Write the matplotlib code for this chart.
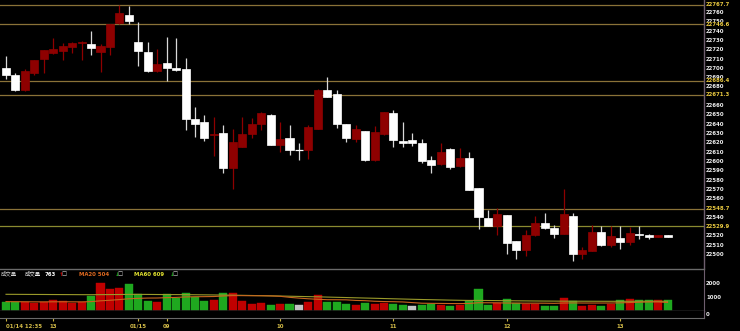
import numpy as np
import matplotlib
matplotlib.use("Agg")
import matplotlib.pyplot as plt
import matplotlib.transforms as mtransforms

# ---------------- data ----------------
opens = [22700, 22692, 22676, 22695, 22710, 22716, 22718, 22722, 22727, 22726,
         22717, 22722, 22748, 22757, 22728, 22717, 22697, 22705, 22700, 22699,
         22645, 22642, 22628, 22630, 22592, 22615, 22629, 22640, 22649, 22617,
         22625, 22612, 22612, 22634, 22676, 22672, 22640, 22624, 22632, 22601,
         22629, 22652, 22621, 22622, 22619, 22601, 22597, 22613, 22595, 22603,
         22571, 22539, 22530, 22542, 22514, 22504, 22520, 22533, 22528, 22522,
         22541, 22500, 22503, 22524, 22510, 22517, 22513, 22522, 22520, 22518,
         22520]
highs = [22713, 22694, 22699, 22708, 22719, 22732, 22727, 22728, 22729, 22740,
         22726, 22747, 22768, 22766, 22749, 22728, 22720, 22733, 22732, 22711,
         22658, 22649, 22647, 22639, 22634, 22647, 22646, 22653, 22650, 22642,
         22639, 22619, 22639, 22677, 22690, 22676, 22640, 22639, 22632, 22638,
         22653, 22655, 22642, 22630, 22624, 22605, 22619, 22614, 22614, 22610,
         22571, 22547, 22549, 22542, 22514, 22526, 22541, 22544, 22531, 22570,
         22544, 22508, 22531, 22530, 22530, 22530, 22529, 22530, 22522, 22520,
         22520]
lows = [22688, 22675, 22675, 22692, 22695, 22715, 22708, 22716, 22708, 22714,
        22696, 22714, 22747, 22747, 22702, 22696, 22696, 22686, 22697, 22633,
        22626, 22621, 22605, 22587, 22570, 22615, 22625, 22633, 22617, 22610,
        22606, 22601, 22602, 22634, 22669, 22635, 22620, 22620, 22600, 22600,
        22628, 22615, 22615, 22616, 22598, 22587, 22596, 22591, 22594, 22569,
        22527, 22530, 22520, 22500, 22495, 22498, 22519, 22527, 22517, 22521,
        22493, 22495, 22503, 22509, 22508, 22505, 22510, 22516, 22516, 22518,
        22518]
closes = [22692, 22676, 22697, 22708, 22719, 22720, 22723, 22727, 22728, 22721,
          22723, 22747, 22759, 22750, 22718, 22697, 22704, 22700, 22698, 22645,
          22640, 22625, 22629, 22592, 22620, 22629, 22640, 22651, 22617, 22624,
          22612, 22612, 22636, 22676, 22669, 22640, 22625, 22634, 22601, 22631,
          22653, 22622, 22619, 22619, 22600, 22596, 22610, 22594, 22603, 22569,
          22540, 22530, 22543, 22512, 22504, 22520, 22533, 22528, 22521, 22543,
          22500, 22504, 22524, 22510, 22519, 22513, 22523, 22520, 22518, 22520,
          22518]
prev_close = 22700

volumes = [635, 590, 590, 540, 635, 760, 665, 540, 635, 1050,
           2020, 1560, 1610, 1930, 1220, 665, 615, 1200, 905, 1270,
           955, 710, 780, 1250, 1290, 690, 490, 540, 415, 490,
           490, 415, 635, 1150, 635, 635, 445, 370, 520, 445,
           520, 490, 395, 320, 415, 490, 370, 345, 370, 665,
           1540, 370, 555, 855, 540, 490, 490, 320, 320, 905,
           665, 345, 395, 300, 445, 735, 855, 780, 735, 735,
           763]
ma20 = [640, 635, 630, 625, 622, 628, 630, 626, 622, 640,
        700, 740, 790, 850, 880, 900, 905, 930, 950, 982,
        998, 1004, 1013, 1049, 1082, 1078, 1069, 1069, 1058, 1030,
        954, 897, 848, 809, 780, 778, 770, 728, 709, 668,
        646, 635, 616, 569, 525, 515, 509, 500, 497, 506,
        559, 556, 552, 538, 533, 526, 528, 525, 515, 538,
        546, 538, 538, 537, 539, 551, 575, 597, 615, 619,
        580]
ma60 = [1175, 1172, 1168, 1165, 1162, 1158, 1155, 1152, 1148, 1145,
        1150, 1155, 1160, 1168, 1170, 1166, 1160, 1156, 1152, 1150,
        1142, 1135, 1128, 1120, 1112, 1100, 1088, 1075, 1062, 1050,
        1035, 1020, 1005, 990, 972, 955, 938, 920, 902, 885,
        866, 848, 830, 812, 795, 780, 765, 750, 738, 728,
        730, 722, 715, 708, 700, 694, 688, 682, 678, 674,
        672, 670, 668, 666, 665, 665, 666, 667, 667, 666,
        665]

ref_levels = [22767.7, 22746.6, 22686.4, 22671.3, 22548.7, 22529.9]
ref_labels = ["22767.7", "22746.6", "22686.4", "22671.3", "22548.7", "22529.9"]
# regular price ticks that stay visible beside the reference-level labels
price_ticks = [t for t in range(22500, 22761, 10) if t not in (22670, 22550, 22530)]
time_tick_pos = [0, 5, 14, 17, 29, 41, 53, 65]
time_tick_labels = ["01/14 12:35", "13", "01/15", "09", "10", "11", "12", "13"]
vol_ticks = [1000, 2000]
legend_vol = "763"
legend_ma20 = "MA20 504"
legend_ma60 = "MA60 609"

# ---------------- figure ----------------
W, H = 740, 331
fig = plt.figure(figsize=(W / 100, H / 100), dpi=100, facecolor="black")


def rect(x0, y0, x1, y1):
    return [x0 / W, 1 - y1 / H, (x1 - x0) / W, (y1 - y0) / H]


x = np.arange(len(opens))
XL = (-0.635, 73.86)
PX = 0.9308
FS = 3.9
AXIS_C = "#6e5e6e"
NUMFONT = dict(family="DejaVu Sans", weight="bold")

# ---- price panel ----
ax = fig.add_axes(rect(0, 0, 704, 268))
ax.set_facecolor("black")
ax.set_xlim(*XL)
ax.set_ylim(22760 - 256 / PX, 22760 + 12 / PX)
for s in ["top", "left", "bottom"]:
    ax.spines[s].set_visible(False)
ax.spines["right"].set_color(AXIS_C)
ax.spines["right"].set_linewidth(1.0)
ax.set_xticks([])
ax.yaxis.tick_right()
ax.set_yticks(price_ticks)
ax.set_yticklabels([str(t) for t in price_ticks])
ax.tick_params(axis="y", length=0, pad=1.5, labelsize=FS, labelcolor="#ececec")
for lab in ax.get_yticklabels():
    lab.set_fontweight("bold")

ref_colors = ["#8a7238", "#8a7238", "#8a7238", "#8a7238", "#8a7238", "#8a8a30"]
trans = mtransforms.blended_transform_factory(ax.transAxes, ax.transData)
for lv, lb, c in zip(ref_levels, ref_labels, ref_colors):
    ax.axhline(lv, color=c, lw=0.9, zorder=1)
    ax.text(1 + 2 / 704, lv, lb, transform=trans, ha="left", va="center",
            fontsize=FS, color="#e8c840", clip_on=False, zorder=5,
            bbox=dict(facecolor="black", edgecolor="none", pad=0.3), **NUMFONT)

o = np.array(opens, float)
c = np.array(closes, float)
hi = np.array(highs, float)
lo = np.array(lows, float)
up = c > o
RED = "#8e0000"
WHITE = "#ffffff"
body_col = [RED if u else WHITE for u in up]
wick_col = [RED if u else "#d8d8d8" for u in up]
ax.vlines(x, lo, hi, colors=wick_col, lw=0.9, zorder=2)
bottoms = np.minimum(o, c)
heights = np.abs(c - o)
body_mask = heights > 0
ax.bar(x[body_mask], heights[body_mask], bottom=bottoms[body_mask], width=0.85,
       color=[body_col[i] for i in x[body_mask]],
       edgecolor=[body_col[i] for i in x[body_mask]], lw=0.5, zorder=3)
doji = ~body_mask
ax.hlines(o[doji], x[doji] - 0.42, x[doji] + 0.42, colors=WHITE, lw=0.9, zorder=3)

# ---- volume panel ----
PV = 13.7 / 1000.0
vax = fig.add_axes(rect(0, 269, 704, 311))
vax.set_facecolor("black")
vax.set_xlim(*XL)
vax.set_ylim(-(311 - 310.4) / PV, (310.4 - 269) / PV)
vax.spines["left"].set_visible(False)
for s in ["top", "bottom"]:
    vax.spines[s].set_color("#6a6a6a")
    vax.spines[s].set_linewidth(1.0)
vax.spines["right"].set_color(AXIS_C)
vax.set_xticks([])
vax.yaxis.tick_right()
vax.set_yticks(vol_ticks)
vax.set_yticklabels([str(t) for t in vol_ticks])
vax.tick_params(axis="y", length=0, pad=1.5, labelsize=FS, labelcolor="#ececec")
for lab in vax.get_yticklabels():
    lab.set_fontweight("bold")

pc = np.concatenate([[prev_close], c[:-1]])
vcol = []
for ci, pi in zip(c, pc):
    if ci > pi:
        vcol.append("#c00000")
    elif ci < pi:
        vcol.append("#1fa81f")
    else:
        vcol.append("#c4c4c4")
vax.bar(x, volumes, width=0.85, color=vcol, edgecolor=vcol, lw=0.3, zorder=2)
vax.plot(x, ma60, color="#9a9a2a", lw=0.8, zorder=3)
vax.plot(x, ma20, color="#c8641e", lw=0.8, zorder=3)

# legend
LY = 1 - 274 / H
CJK = ["Noto Sans CJK TC", "DejaVu Sans"]
fig.text(0.5 / W, LY, "成交量", family=CJK, fontsize=3.9, color="#d0d0d0", va="center")
fig.text(25 / W, LY, "成交量", family=CJK, fontsize=3.9, color="#e8e8e8", va="center")
fig.text(45 / W, LY, legend_vol, fontsize=FS, color="#ffffff", va="center", **NUMFONT)
fig.text(58.5 / W, LY, "↑", fontsize=FS, color="#e00000", va="center", **NUMFONT)
fig.text(62 / W, LY, "□", fontsize=FS, color="#e8e8e8", va="center", family="DejaVu Sans")
fig.text(79 / W, LY, legend_ma20, fontsize=FS, color="#e06a20", va="center", **NUMFONT)
fig.text(114.5 / W, LY, "↓", fontsize=FS, color="#20c020", va="center", **NUMFONT)
fig.text(118 / W, LY, "□", fontsize=FS, color="#e8e8e8", va="center", family="DejaVu Sans")
fig.text(134 / W, LY, legend_ma60, fontsize=FS, color="#e0e030", va="center", **NUMFONT)
fig.text(169.5 / W, LY, "↓", fontsize=FS, color="#20c020", va="center", **NUMFONT)
fig.text(173 / W, LY, "□", fontsize=FS, color="#e8e8e8", va="center", family="DejaVu Sans")

# ---- zero strip / time axis ----
sax = fig.add_axes(rect(0, 311, 704, 318))
sax.set_facecolor("black")
sax.set_xlim(*XL)
sax.set_ylim(0, 1)
sax.spines["left"].set_visible(False)
sax.spines["top"].set_visible(False)
sax.spines["bottom"].set_color("#6a6a6a")
sax.spines["right"].set_color(AXIS_C)
sax.set_yticks([])
sax.set_xticks(time_tick_pos)
sax.set_xticklabels(time_tick_labels)
sax.tick_params(axis="x", direction="out", length=2.4, width=0.8, color="#c8b040",
                pad=1.6, labelsize=FS, labelcolor="#d4bc48")
for i, lab in enumerate(sax.get_xticklabels()):
    lab.set_fontweight("bold")
    if i == 0:
        lab.set_ha("left")
fig.text(706 / W, 1 - 314 / H, "0", fontsize=FS, color="#ececec", va="center", **NUMFONT)

fig.savefig("out.png", dpi=100, facecolor="black")
